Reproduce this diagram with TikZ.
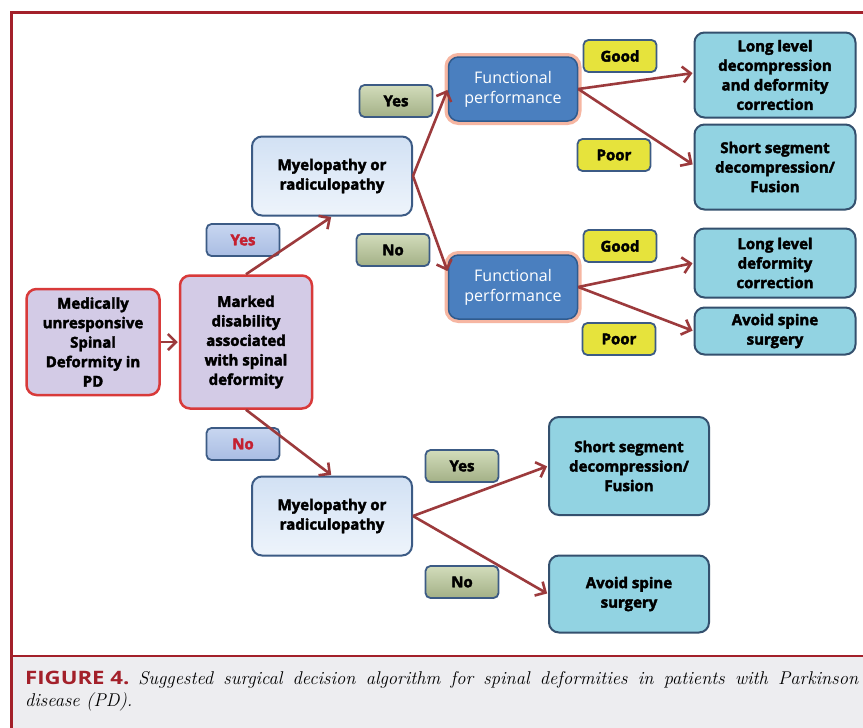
\documentclass[tikz,border=0pt]{standalone}
\usepackage{fontspec}
\usetikzlibrary{arrows.meta,shadows}
\newfontfamily\boxfont{Open Sans}[BoldFeatures={FakeBold=2.5}]
\newfontfamily\capsans{Open Sans}
\definecolor{framered}{HTML}{A3202A}
\definecolor{lavfill}{HTML}{D3CBE6}
\definecolor{lavdraw}{HTML}{D83A3A}
\definecolor{myetop}{HTML}{D2E1F4}
\definecolor{myebot}{HTML}{EEF4FB}
\definecolor{bluedraw}{HTML}{3C5B85}
\definecolor{fpfill}{HTML}{4A7FBF}
\definecolor{fpdraw}{HTML}{2F5B8F}
\definecolor{glow}{HTML}{F6B6A2}
\definecolor{resfill}{HTML}{92D3E2}
\definecolor{resdraw}{HTML}{34506E}
\definecolor{yelfill}{HTML}{E6E33C}
\definecolor{grntop}{HTML}{D2DCBB}
\definecolor{grnbot}{HTML}{A3B086}
\definecolor{bltop}{HTML}{C8D6F0}
\definecolor{blbot}{HTML}{A9BDE3}
\definecolor{redtext}{HTML}{C42030}
\definecolor{arrowcol}{HTML}{9C3A3C}
\definecolor{capgray}{HTML}{EDEDF0}
\tikzset{
  box/.style={rounded corners=10pt, align=center, inner sep=2pt,
    font=\boxfont\bfseries\fontsize{15}{19.5}\selectfont},
  lavbox/.style={box, fill=lavfill, draw=lavdraw, line width=2.5pt},
  myebox/.style={box, top color=myetop, bottom color=myebot, draw=bluedraw, line width=2pt,
    minimum width=160pt, minimum height=79pt},
  fpbox/.style={box, fill=fpfill, draw=fpdraw, line width=1.5pt, text=white,
    font=\boxfont\fontsize{16}{20}\selectfont,
    preaction={draw=glow, line width=8pt},
    minimum width=129pt, minimum height=64pt},
  resbox/.style={box, fill=resfill, draw=resdraw, line width=2pt},
  lbl/.style={rounded corners=5pt, align=center, inner sep=1pt, line width=1.8pt,
    minimum width=73pt, minimum height=32pt,
    font=\boxfont\bfseries\fontsize{15}{18}\selectfont},
  yel/.style={lbl, fill=yelfill, draw=bluedraw},
  grn/.style={lbl, top color=grntop, bottom color=grnbot, draw=bluedraw},
  blu/.style={lbl, top color=bltop, bottom color=blbot, draw=bluedraw, text=redtext},
  arr/.style={draw=arrowcol, line width=2.6pt,
    -{Straight Barb[length=8pt,width=16pt,line width=2.6pt]}, shorten >=1pt}
}
\begin{document}
\begin{tikzpicture}[x=1pt,y=-1pt]
\useasboundingbox (0,0) rectangle (863,728);
\fill[white] (0,0) rectangle (863,728);
% caption area
\fill[capgray] (11,656) rectangle (863,728);
\draw[framered, line width=3pt] (11,728) -- (11,12) -- (864,12);
\draw[framered, line width=2.5pt] (11,656) -- (864,656);

% main nodes
\node[lavbox, minimum width=133pt, minimum height=106pt] (med) at (93,342)
  {Medically\\unresponsive\\Spinal\\Deformity in\\PD};
\node[lavbox, minimum width=132pt, minimum height=133pt] (mark) at (246,342)
  {Marked\\disability\\associated\\with spinal\\deformity};
\node[myebox] (my1) at (332,176) {Myelopathy or\\radiculopathy};
\node[myebox] (my2) at (332,516) {Myelopathy or\\radiculopathy};
\node[fpbox] (fp1) at (513,89) {Functional\\performance};
\node[fpbox] (fp2) at (513,287) {Functional\\performance};
\node[resbox, minimum width=161pt, minimum height=85pt] (r1) at (775,75)
  {Long level\\decompression\\and deformity\\correction};
\node[resbox, minimum width=161pt, minimum height=85pt] (r2) at (775,167)
  {Short segment\\decompression/\\Fusion};
\node[resbox, minimum width=161pt, minimum height=69pt] (r3) at (775,263)
  {Long level\\deformity\\correction};
\node[resbox, minimum width=161pt, minimum height=47pt] (r4) at (775,331)
  {Avoid spine\\surgery};
\node[resbox, minimum width=160pt, minimum height=98pt] (r5) at (629,466)
  {Short segment\\decompression/\\Fusion};
\node[resbox, minimum width=160pt, minimum height=77pt] (r6) at (629,594)
  {Avoid spine\\surgery};

% labels
\node[blu] (y0) at (243,240) {Yes};
\node[blu] (n0) at (243,444) {No};
\node[grn] (y1) at (396,101) {Yes};
\node[grn] (n1) at (393,250) {No};
\node[yel] (g1) at (620,56) {Good};
\node[yel] (p1) at (614,155) {Poor};
\node[yel] (g2) at (620,246) {Good};
\node[yel] (p2) at (619,339) {Poor};
\node[grn] (y2) at (462,466) {Yes};
\node[grn] (n2) at (462,582) {No};

% connectors
\draw[arr] (med.east) -- (mark.west);
\draw[arr] (mark.north) -- (my1.south);
\draw[arr] (mark.south) -- (my2.north);
\draw[arr] (my1.east) -- (fp1.west);
\draw[arr] (my1.east) -- ([yshift=15pt]fp2.west);
\draw[arr] (fp1.east) -- ([yshift=2pt]r1.west);
\draw[arr] (fp1.east) -- ([yshift=2pt]r2.west);
\draw[arr] (fp2.east) -- (r3.west);
\draw[arr] (fp2.east) -- (r4.west);
\draw[arr] (my2.east) -- (r5.west);
\draw[arr] (my2.east) -- (r6.west);

% caption
\node[anchor=north west, text width=833pt, align=justify, inner sep=0pt,
  font=\fontsize{18.5}{21.5}\selectfont] (cap) at (25,671)
  {\hyphenpenalty=10000 {\capsans\bfseries\color{framered}\scalebox{1.2}[1]{FIGURE 4.}} \itshape Suggested surgical decision algorithm for spinal deformities in patients with Parkinson\linebreak disease (PD).};
\end{tikzpicture}
\end{document}
